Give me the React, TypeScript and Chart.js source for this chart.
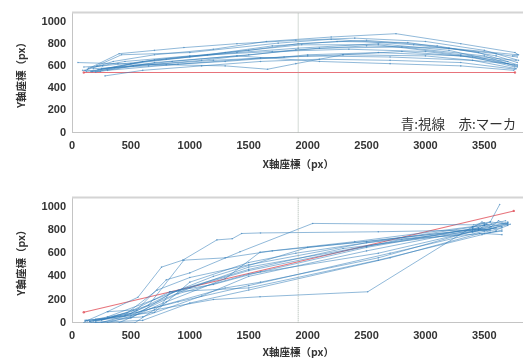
import React, { useEffect, useRef } from "react";
import { Chart, registerables } from "chart.js";

Chart.register(...registerables);

type P = [number, number];

// axis
const xTicks = [0, 500, 1000, 1500, 2000, 2500, 3000, 3500];
const yTicks = [0, 200, 400, 600, 800, 1000];
const xMax = 3840;
const yMax = 1080;
const centerLineX = 1920;
const xTitle = "X軸座標（px）";
const yTitle = "Y軸座標（px）";
const noteText = "青:視線　赤:マーカ";

// red marker paths
const topMarker: P[] = [[100, 540], [3760, 540]];
const bottomMarker: P[] = [[100, 90], [3750, 965]];

// top chart gaze paths (blue)
const topGaze01: P[] = [[110, 560], [350, 640], [700, 700], [1200, 750], [1650, 820], [2200, 860], [2750, 890], [3300, 800], [3760, 720], [3790, 700], [3740, 690]];
const topGaze02: P[] = [[130, 570], [400, 710], [700, 740], [950, 765], [1400, 800], [1900, 830], [2400, 850], [3000, 820], [3500, 740], [3790, 650]];
const topGaze03: P[] = [[160, 550], [500, 620], [1000, 680], [1500, 740], [1920, 800], [2500, 830], [3100, 780], [3600, 690], [3780, 630]];
const topGaze04: P[] = [[100, 590], [260, 600], [800, 660], [1400, 720], [1920, 760], [2600, 800], [3200, 740], [3780, 600]];
const topGaze05: P[] = [[50, 630], [390, 620], [800, 610], [1300, 600], [1660, 570], [1900, 620], [2300, 700], [2800, 730], [3400, 680], [3760, 590]];
const topGaze06: P[] = [[280, 510], [600, 560], [1100, 600], [1600, 640], [2100, 660], [2700, 650], [3300, 630], [3760, 570]];
const topGaze07: P[] = [[200, 545], [600, 640], [1150, 700], [1700, 780], [2250, 820], [2850, 810], [3450, 720], [3780, 610]];
const topGaze08: P[] = [[220, 565], [700, 655], [1300, 720], [1950, 790], [2600, 790], [3300, 700], [3770, 650]];
const topGaze09: P[] = [[140, 580], [450, 640], [1000, 690], [1700, 730], [2350, 750], [3000, 730], [3700, 640]];
const topGaze10: P[] = [[250, 575], [850, 640], [1500, 700], [2100, 760], [2800, 770], [3500, 690], [3780, 590]];
const topGaze11: P[] = [[170, 548], [520, 600], [1200, 650], [2000, 690], [2700, 680], [3400, 650], [3770, 575]];
const topGaze12: P[] = [[210, 600], [420, 700], [1000, 720], [1750, 805], [2200, 840], [2900, 790], [3600, 710], [3780, 680]];
const topGaze13: P[] = [[300, 560], [900, 615], [1600, 670], [2300, 700], [3000, 690], [3700, 620]];
const topGaze14: P[] = [[120, 550], [360, 585], [1100, 650], [1900, 745], [2500, 780], [3200, 760], [3780, 700]];
const topGaze15: P[] = [[180, 575], [650, 600], [1300, 640], [1800, 680], [2000, 700], [2600, 720], [3300, 690], [3760, 610]];
const topGaze16: P[] = [[90, 560], [240, 550], [700, 630], [1400, 690], [2100, 640], [2700, 620], [3300, 600], [3750, 560]];

// bottom chart gaze paths (blue)
const botGaze01: P[] = [[110, 10], [300, 95], [560, 220], [760, 480], [940, 540], [1230, 715], [1360, 725], [1440, 770], [1600, 775], [2600, 785], [3420, 800], [3560, 850], [3650, 830]];
const botGaze02: P[] = [[200, 10], [550, 110], [800, 370], [1000, 430], [1426, 612], [2043, 857], [3410, 845], [3550, 870], [3700, 850]];
const botGaze03: P[] = [[110, 20], [500, 60], [900, 250], [1500, 420], [2600, 600], [3450, 800], [3700, 860]];
const botGaze04: P[] = [[300, 0], [700, 110], [1200, 200], [1596, 224], [2510, 267], [3400, 828], [3520, 850]];
const botGaze05: P[] = [[150, 10], [450, 60], [1000, 300], [1500, 480], [2500, 660], [3450, 820], [3550, 800]];
const botGaze06: P[] = [[250, 0], [700, 130], [1300, 300], [1600, 350], [2600, 560], [3400, 790], [3650, 820]];
const botGaze07: P[] = [[180, 15], [550, 90], [900, 180], [1500, 320], [2700, 600], [3500, 790], [3700, 860]];
const botGaze08: P[] = [[306, 95], [520, 110], [830, 267], [1500, 300], [2600, 540], [3480, 760], [3650, 800]];
const botGaze09: P[] = [[120, 20], [600, 50], [1100, 230], [1500, 400], [2500, 620], [3550, 830], [3700, 870]];
const botGaze10: P[] = [[400, 0], [773, 170], [832, 267], [1200, 330], [1600, 440], [2500, 650], [3400, 810], [3600, 790]];
const botGaze11: P[] = [[200, 30], [700, 90], [1000, 350], [1500, 520], [1900, 600], [3500, 840], [3680, 880]];
const botGaze12: P[] = [[250, 20], [650, 150], [950, 540], [1300, 560], [1700, 620], [2500, 700], [3450, 810], [3550, 780]];
const botGaze13: P[] = [[100, 0], [535, 0], [800, 180], [1300, 380], [1596, 609], [2400, 700], [3400, 830], [3500, 860]];
const botGaze14: P[] = [[300, 50], [700, 200], [1200, 400], [2000, 650], [3400, 800], [3550, 870], [3630, 1020]];
const botGaze15: P[] = [[150, 10], [500, 80], [900, 280], [1500, 460], [2300, 640], [3400, 780], [3720, 850]];
const botGaze16: P[] = [[200, 0], [500, 40], [850, 260], [1500, 450], [2800, 720], [3500, 770], [3650, 760]];
const botGaze17: P[] = [[130, 15], [467, 83], [722, 281], [1000, 390], [1500, 500], [2500, 690], [3420, 790], [3600, 820]];
const botGaze18: P[] = [[160, 0], [600, 20], [1000, 170], [1500, 282], [2700, 560], [3460, 770], [3650, 790]];
const botGaze19: P[] = [[3400, 820], [3480, 870], [3560, 830], [3620, 880], [3700, 840], [3600, 800], [3500, 840], [3450, 800]];

const topGaze = [topGaze01, topGaze02, topGaze03, topGaze04, topGaze05, topGaze06, topGaze07, topGaze08, topGaze09, topGaze10, topGaze11, topGaze12, topGaze13, topGaze14, topGaze15, topGaze16];
const botGaze = [botGaze01, botGaze02, botGaze03, botGaze04, botGaze05, botGaze06, botGaze07, botGaze08, botGaze09, botGaze10, botGaze11, botGaze12, botGaze13, botGaze14, botGaze15, botGaze16, botGaze17, botGaze18, botGaze19];

const BLUE = "rgba(50,125,185,0.6)";
const RED = "rgba(225,80,90,0.8)";
const TEXT = "#333333";
const tickFont = { family: "'Liberation Sans', Arial, sans-serif", weight: "bold" as const, size: 11 };
const titleFont = { family: "'Noto Sans CJK JP', sans-serif", weight: "bold" as const, size: 10.5 };

const framePlugin = {
  id: "frameTop",
  beforeDatasetsDraw(chart: any) {
    const { ctx, chartArea: a } = chart;
    ctx.save();
    ctx.strokeStyle = "#d4d4d4";
    ctx.lineWidth = 2;
    ctx.beginPath();
    ctx.moveTo(a.left, a.top);
    ctx.lineTo(a.right + 10, a.top);
    ctx.stroke();
    ctx.restore();
  },
};

function makeNotePlugin(text: string) {
  return {
    id: "note",
    afterDatasetsDraw(chart: any) {
      const { ctx } = chart;
      const xs = chart.scales.x;
      const ys = chart.scales.y;
      ctx.save();
      ctx.font = "13.5px 'Noto Sans CJK JP', sans-serif";
      ctx.fillStyle = TEXT;
      ctx.textAlign = "right";
      ctx.textBaseline = "middle";
      ctx.fillText(text, xs.getPixelForValue(3770), ys.getPixelForValue(82));
      ctx.restore();
    },
  };
}

type Props = {
  paths: P[][];
  marker: P[];
  width: number;
  height: number;
  padTop: number;
  xAxisHeight: number;
  xTitlePad: number;
  note?: string;
};

function GazeChart({ paths, marker, width, height, padTop, xAxisHeight, xTitlePad, note }: Props) {
  const ref = useRef<HTMLCanvasElement | null>(null);
  useEffect(() => {
    if (!ref.current) return;
    const datasets: any[] = [];
    datasets.push({
      data: [
        { x: centerLineX, y: 0 },
        { x: centerLineX, y: yMax },
      ],
      showLine: true,
      borderColor: "rgba(150,168,158,0.85)",
      borderWidth: 1,
      borderDash: [1, 1],
      pointRadius: 0,
    });
    paths.forEach((p) =>
      datasets.push({
        data: p.map(([x, y]) => ({ x, y })),
        showLine: true,
        borderColor: BLUE,
        borderWidth: 0.9,
        pointRadius: 0.8,
        pointBackgroundColor: BLUE,
        pointBorderWidth: 0,
      })
    );
    datasets.push({
      data: marker.map(([x, y]) => ({ x, y })),
      showLine: true,
      borderColor: RED,
      borderWidth: 1.1,
      pointRadius: 1.2,
      pointBackgroundColor: RED,
      pointBorderWidth: 0,
    });
    const plugins: any[] = [framePlugin];
    if (note) plugins.push(makeNotePlugin(note));
    const chart = new Chart(ref.current, {
      type: "scatter",
      data: { datasets },
      plugins,
      options: {
        responsive: false,
        animation: false,
        devicePixelRatio: 1,
        layout: { padding: { top: padTop, right: 5.6, left: 0, bottom: 0 } },
        plugins: { legend: { display: false }, tooltip: { enabled: false } },
        scales: {
          x: {
            type: "linear",
            min: 0,
            max: xMax,
            afterBuildTicks: (s: any) => {
              s.ticks = xTicks.map((v) => ({ value: v }));
            },
            afterFit: (s: any) => {
              s.height = xAxisHeight;
            },
            grid: { display: false, drawTicks: false },
            border: { display: true, color: "#c4c4c4", width: 1 },
            ticks: { font: tickFont, color: TEXT, padding: 7, maxRotation: 0, autoSkip: false, callback: (v: any) => String(v) },
            title: { display: true, text: xTitle, font: titleFont, color: TEXT, padding: { top: 0, bottom: xTitlePad } },
          },
          y: {
            type: "linear",
            min: 0,
            max: yMax,
            afterBuildTicks: (s: any) => {
              s.ticks = yTicks.map((v) => ({ value: v }));
            },
            afterFit: (s: any) => {
              s.width = 72;
            },
            grid: { display: false, drawTicks: false },
            border: { display: true, color: "#c4c4c4", width: 1 },
            ticks: { font: tickFont, color: TEXT, padding: 6, callback: (v: any) => String(v) },
            title: { display: true, text: yTitle, font: titleFont, color: TEXT, padding: { top: 15, bottom: 0 } },
          },
        },
      } as any,
    });
    return () => chart.destroy();
  }, []);
  return <canvas ref={ref} width={width} height={height} style={{ display: "block" }} />;
}

export default function App() {
  return (
    <div style={{ position: "fixed", left: 0, top: 0, width: 523, height: 358, overflow: "hidden", background: "#fff" }}>
      <div style={{ position: "absolute", left: 0, top: 0 }}>
        <GazeChart paths={topGaze} marker={topMarker} width={530} height={180} padTop={8} xAxisHeight={47.5} xTitlePad={10} note={noteText} />
      </div>
      <div style={{ position: "absolute", left: 0, top: 180 }}>
        <GazeChart paths={botGaze} marker={bottomMarker} width={530} height={178} padTop={17.6} xAxisHeight={35.3} xTitlePad={0} />
      </div>
    </div>
  );
}
